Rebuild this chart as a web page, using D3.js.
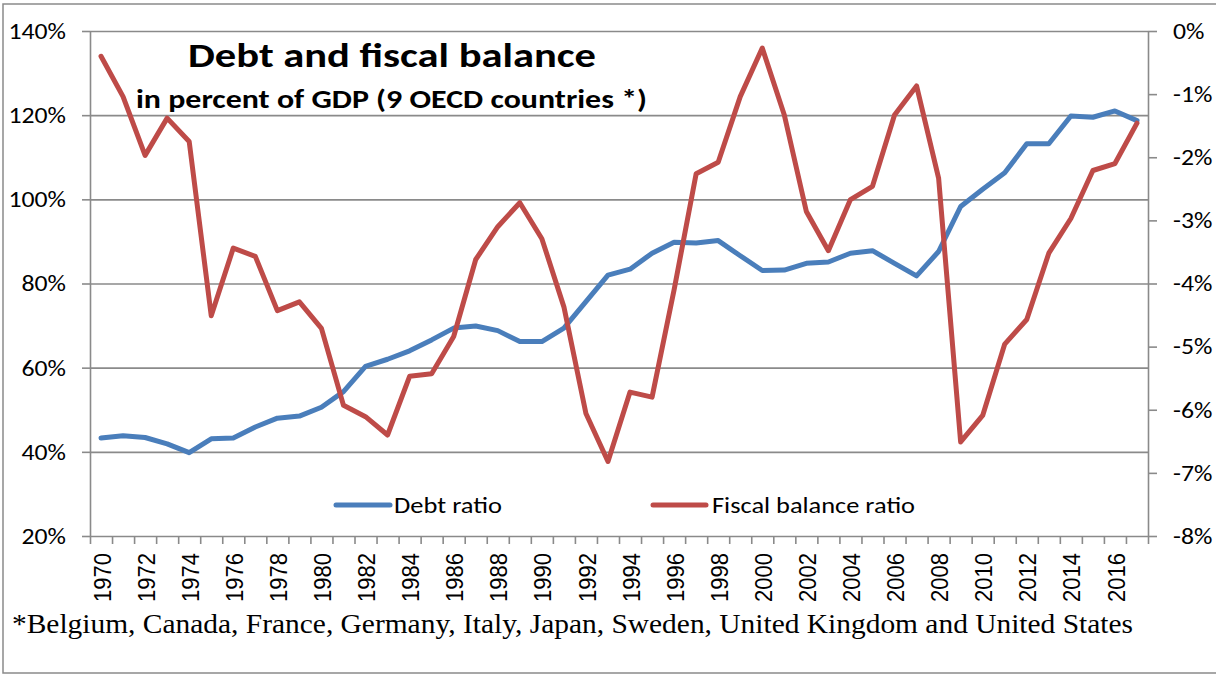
<!DOCTYPE html>
<html><head><meta charset="utf-8">
<script src="https://cdn.jsdelivr.net/npm/d3@7"></script>
<style>body{margin:0;background:#fff} svg{display:block}</style>
</head><body><svg id="c" width="1216" height="675"></svg>
<script>
const years = [1970,1971,1972,1973,1974,1975,1976,1977,1978,1979,1980,1981,1982,1983,1984,1985,1986,1987,1988,1989,
  1990,1991,1992,1993,1994,1995,1996,1997,1998,1999,2000,2001,2002,2003,2004,2005,2006,2007,2008,2009,
  2010,2011,2012,2013,2014,2015,2016,2017];
const debtRatio = [43.3,43.8,43.4,41.9,39.8,43.1,43.3,45.9,48.0,48.5,50.6,54.3,60.3,62.0,64.0,66.6,69.4,69.9,68.8,66.2,
  66.2,69.4,75.7,82.0,83.4,87.2,89.8,89.6,90.2,86.6,83.1,83.2,84.8,85.1,87.2,87.8,84.8,81.8,87.6,98.3,
  102.4,106.3,113.2,113.2,119.8,119.5,121.0,118.7];
const fiscalBalance = [-0.40,-1.04,-1.97,-1.38,-1.75,-4.51,-3.44,-3.57,-4.43,-4.29,-4.71,-5.93,-6.11,-6.40,-5.47,-5.43,-4.84,-3.62,-3.10,-2.72,
  -3.29,-4.37,-6.06,-6.82,-5.72,-5.80,-4.10,-2.26,-2.08,-1.04,-0.27,-1.33,-2.86,-3.48,-2.67,-2.46,-1.33,-0.87,-2.33,-6.51,
  -6.09,-4.96,-4.57,-3.52,-2.97,-2.21,-2.10,-1.46];
const leftTicks = [20,40,60,80,100,120,140];
const rightTicks = [0,-1,-2,-3,-4,-5,-6,-7,-8];
const xLabelYears = [1970,1972,1974,1976,1978,1980,1982,1984,1986,1988,1990,1992,1994,1996,1998,2000,2002,2004,2006,2008,2010,2012,2014,2016];
const seriesNames = ["Debt ratio","Fiscal balance ratio"];
const titleText = "Debt and fiscal balance";
const subtitleText = "in percent of GDP (9 OECD countries *)";
const footnoteText = "*Belgium, Canada, France, Germany, Italy, Japan, Sweden, United Kingdom and United States";

const BLUE = '#4A7EBB', RED = '#BE4B48', GRID = '#8a8a8a';
const CAL = 'Carlito, Lato, "Open Sans", sans-serif';
const svg = d3.select('#c');
const L = 90, R = 1148, T = 31, B = 536;

const x = d3.scaleBand().domain(years).range([L, R]).padding(0);
const xb = d3.scaleLinear().domain([0, years.length]).range([L, R]);
const yL = d3.scaleLinear().domain([20, 140]).range([B, T]);
const yR = d3.scaleLinear().domain([-8, 0]).range([B, T]);
const cx = d => x(d) + x.bandwidth() / 2;

// outer border
svg.append('rect').attr('x', 3).attr('y', 4).attr('width', 1240).attr('height', 669)
  .attr('fill', 'none').attr('stroke', GRID).attr('stroke-width', 1.5);

// gridlines
svg.append('g').attr('transform', `translate(${L},0)`)
  .call(d3.axisLeft(yL).tickValues(leftTicks.filter(v => v > 20)).tickSize(-(R - L)).tickFormat(''))
  .call(g => g.select('.domain').remove())
  .call(g => g.selectAll('line').attr('stroke', GRID).attr('stroke-width', 1.6));

// left axis
const axL = svg.append('g').attr('transform', `translate(${L},0)`)
  .call(d3.axisLeft(yL).tickValues(leftTicks).tickSize(8).tickSizeOuter(0).tickFormat(d => d + '%'));
axL.select('.domain').attr('stroke', GRID).attr('stroke-width', 1.6);
axL.selectAll('line').attr('stroke', GRID).attr('stroke-width', 1.6);
axL.selectAll('text').attr('x', 0).attr('transform', 'translate(-24,0) scale(1.12,1)')
  .attr('font-family', CAL).attr('font-size', 23).attr('fill', '#000');

// right axis
const axR = svg.append('g').attr('transform', `translate(${R},0)`)
  .call(d3.axisRight(yR).tickValues(rightTicks).tickSize(9).tickSizeOuter(0).tickFormat(d => `${d}%`));
axR.select('.domain').attr('stroke', GRID).attr('stroke-width', 1.6);
axR.selectAll('line').attr('stroke', GRID).attr('stroke-width', 1.6);
axR.selectAll('text').attr('x', 0).attr('transform', 'translate(25,0) scale(1.12,1)')
  .attr('font-family', CAL).attr('font-size', 23).attr('fill', '#000');

// bottom tick marks at category boundaries
const axB = svg.append('g').attr('transform', `translate(0,${B})`)
  .call(d3.axisBottom(xb).tickValues(d3.range(0, years.length + 1)).tickSize(8).tickSizeOuter(0).tickFormat(''));
axB.select('.domain').attr('stroke', GRID).attr('stroke-width', 1.6);
axB.selectAll('line').attr('stroke', GRID).attr('stroke-width', 1.6);

// bottom labels
const axBL = svg.append('g').attr('transform', `translate(0,${B})`)
  .call(d3.axisBottom(x).tickValues(xLabelYears).tickSize(0).tickFormat(d => d));
axBL.select('.domain').remove();
axBL.selectAll('text').attr('x', 0).attr('y', 0).attr('dy', '0.35em')
  .attr('text-anchor', 'end')
  .attr('transform', 'translate(1,17) scale(1.12,1) rotate(-90)')
  .attr('font-family', '"Liberation Sans", Arial, sans-serif').attr('font-size', 22).attr('fill', '#000');

// lines
const lineL = d3.line().x((d, i) => cx(years[i])).y(d => yL(d));
const lineR = d3.line().x((d, i) => cx(years[i])).y(d => yR(d));
svg.append('path').datum(debtRatio).attr('d', lineL).attr('fill', 'none')
  .attr('stroke', BLUE).attr('stroke-width', 5).attr('stroke-linejoin', 'round').attr('stroke-linecap', 'round');
svg.append('path').datum(fiscalBalance).attr('d', lineR).attr('fill', 'none')
  .attr('stroke', RED).attr('stroke-width', 5).attr('stroke-linejoin', 'round').attr('stroke-linecap', 'round');

// title
svg.append('text').attr('x', 188).attr('y', 67).attr('textLength', 408).attr('lengthAdjust', 'spacingAndGlyphs')
  .attr('font-family', CAL).attr('font-weight', 900).attr('font-size', 34).attr('fill', '#000').text(titleText);
svg.append('text').attr('x', 136).attr('y', 108).attr('textLength', 511).attr('lengthAdjust', 'spacingAndGlyphs')
  .attr('font-family', CAL).attr('font-weight', 'bold').attr('font-size', 27).attr('fill', '#000').text(subtitleText);

// legend
const legend = [
  {name: seriesNames[0], color: BLUE, x1: 336, x2: 390, tx: 394, tl: 108},
  {name: seriesNames[1], color: RED, x1: 653, x2: 706, tx: 712, tl: 203}
];
const lg = svg.append('g').selectAll('g').data(legend).join('g');
lg.append('line').attr('x1', d => d.x1).attr('x2', d => d.x2).attr('y1', 505).attr('y2', 505)
  .attr('stroke', d => d.color).attr('stroke-width', 5).attr('stroke-linecap', 'round');
lg.append('text').attr('x', d => d.tx).attr('y', 513).attr('textLength', d => d.tl).attr('lengthAdjust', 'spacingAndGlyphs')
  .attr('font-family', CAL).attr('font-size', 23).attr('fill', '#000').text(d => d.name);

// footnote
svg.append('text').attr('x', 12).attr('y', 633).attr('textLength', 1121).attr('lengthAdjust', 'spacingAndGlyphs')
  .attr('font-family', '"Liberation Serif", "Times New Roman", serif').attr('font-size', 28).attr('fill', '#000')
  .text(footnoteText);
</script>
</body></html>
